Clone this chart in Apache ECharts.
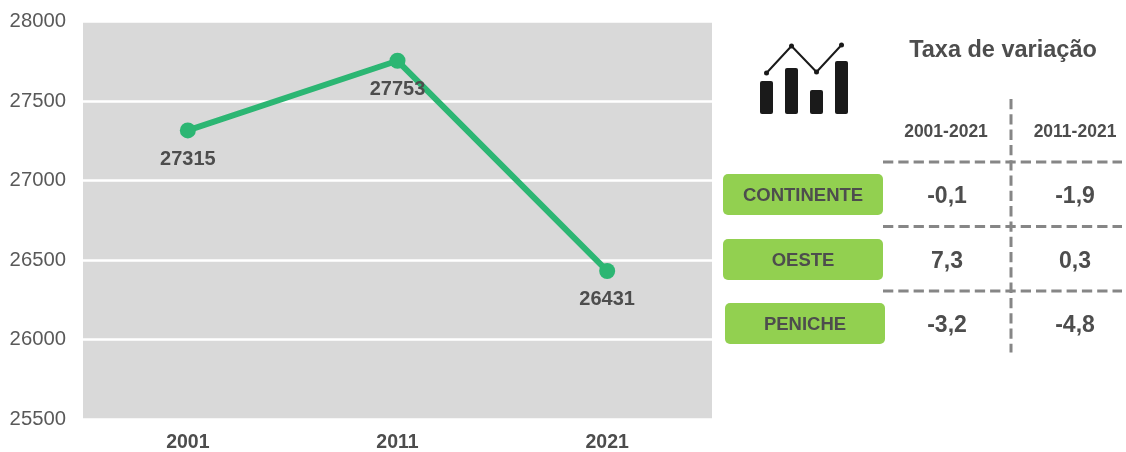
<!DOCTYPE html>
<html><head><meta charset="utf-8">
<style>html,body{margin:0;padding:0;background:#fff}#c{width:1126px;height:452px}</style>
<script src="https://cdn.jsdelivr.net/npm/echarts@6/dist/echarts.min.js"></script>
</head><body><div id="c"></div>
<script>
const years = ['2001','2011','2021'];
const population = [27315,27753,26431];
const iconCategories = ['a','b','c','d'];
const iconBars = [33,46,24,53];
const iconLine = [41,68,42,69];
const tableTitle = 'Taxa de variação';
const periods = ['2001-2021','2011-2021'];
const regions = ['CONTINENTE','OESTE','PENICHE'];
const rateA = ['-0,1','7,3','-3,2'];
const rateB = ['-1,9','0,3','-4,8'];

const font = '"Liberation Sans", Arial, sans-serif';
const ink = '#4d4d4d';
const colX = [947,1075];
const rowY = [195,260,324];
const btn = [{x:723,y:174,w:160},{x:723,y:239,w:160},{x:725,y:303,w:160}];
const dash = {stroke:'#868686',lineWidth:3,lineDash:[10.3,5]};
const txt = (x,y,text,size,fill) => ({type:'text',x,y,style:{text,x:0,y:0,align:'center',verticalAlign:'middle',font:`bold ${size}px ${font}`,fill:fill||ink}});
const graphics = [
  txt(1003,51,tableTitle,23.5),
  txt(colX[0]-1,132,periods[0],17.5),
  txt(colX[1],132,periods[1],17.5),
  ...regions.map((r,i)=>({type:'rect',shape:{x:btn[i].x,y:btn[i].y,width:btn[i].w,height:41,r:5},style:{fill:'#92d050'}})),
  ...regions.map((r,i)=>txt(btn[i].x+btn[i].w/2,rowY[i]+1,r,18.5)),
  ...regions.map((r,i)=>txt(colX[0],rowY[i]+2,rateA[i],23)),
  ...regions.map((r,i)=>txt(colX[1],rowY[i]+2,rateB[i],23)),
  ...[162,226.5,291].map(y=>({type:'line',shape:{x1:883,y1:y,x2:1122,y2:y},style:dash})),
  {type:'line',shape:{x1:1011,y1:99,x2:1011,y2:352.5},style:dash}
];

const chart = echarts.init(document.getElementById('c'),null,{renderer:'canvas'});
chart.setOption({
  animation:false,
  backgroundColor:'#fff',
  grid:[
    {left:83,top:21.5,width:629,height:397.5,show:true,backgroundColor:'#d9d9d9',borderWidth:0,outerBoundsMode:'none'},
    {left:754,top:44,width:100,height:70,show:false,outerBoundsMode:'none'}
  ],
  xAxis:[
    {type:'category',gridIndex:0,data:years,axisLine:{show:false},axisTick:{show:false},
     axisLabel:{margin:14,fontFamily:font,fontWeight:'bold',fontSize:19.5,color:ink}},
    {type:'category',gridIndex:1,data:iconCategories,show:false}
  ],
  yAxis:[
    {type:'value',gridIndex:0,min:25500,max:28000,interval:500,axisLine:{show:false},axisTick:{show:false},
     axisLabel:{margin:17,fontFamily:font,fontSize:20.3,color:'#595959',padding:[2,0,0,0],formatter:v=>String(v)},
     splitLine:{lineStyle:{color:'#fff',width:2.5}}},
    {type:'value',gridIndex:1,min:0,max:70,show:false}
  ],
  series:[
    {type:'line',xAxisIndex:0,yAxisIndex:0,data:population,symbol:'circle',symbolSize:16,
     lineStyle:{color:'#2cb673',width:6},itemStyle:{color:'#2cb673'},
     label:{show:true,position:'bottom',distance:11,fontFamily:font,fontWeight:'bold',fontSize:20,color:ink}},
    {type:'bar',xAxisIndex:1,yAxisIndex:1,data:iconBars,barWidth:13,itemStyle:{color:'#1a1a1a',borderRadius:2},silent:true},
    {type:'line',xAxisIndex:1,yAxisIndex:1,data:iconLine,symbol:'circle',symbolSize:5,
     lineStyle:{color:'#1a1a1a',width:2},itemStyle:{color:'#1a1a1a'},silent:true}
  ],
  graphic:graphics
});
</script></body></html>
